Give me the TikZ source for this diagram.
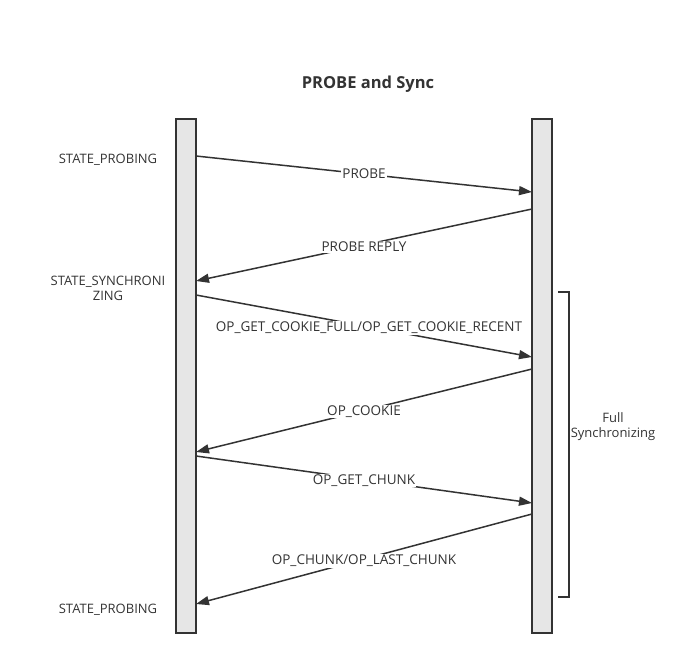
\documentclass[tikz,border=0pt]{standalone}
\usepackage{fontspec}
\setmainfont{Open Sans}
\usetikzlibrary{arrows.meta}
\definecolor{linegray}{HTML}{333333}
\definecolor{barfill}{HTML}{E6E6E6}
\tikzset{
  lifebar/.style={draw=linegray, line width=1.5pt, fill=barfill},
  msg/.style={draw=linegray, line width=1.5pt, -{Triangle[length=13pt,width=9pt]}},
  msglabel/.style={fill=white, inner sep=1pt, text=linegray, font=\fontsize{13.5}{15}\selectfont},
  statelabel/.style={text=linegray, align=center, font=\fontsize{13}{15}\selectfont}
}
\begin{document}
\begin{tikzpicture}[x=1pt, y=-1pt]
    \useasboundingbox (0,0) rectangle (693,666);
    \node[font=\bfseries\fontsize{16.5}{18}\selectfont, text=linegray] (title) at (368,84) {PROBE and Sync};
    % the two bars
    \draw[lifebar] (176,119) rectangle (196,633);
    \draw[lifebar] (532,119) rectangle (552,633);
    \coordinate (l1) at (196,156); \coordinate (r1) at (532,192);
    \coordinate (r2) at (532,209); \coordinate (l2) at (196,281);
    \coordinate (l3) at (196,295); \coordinate (r3) at (532,357);
    \coordinate (r4) at (532,369); \coordinate (l4) at (196,452);
    \coordinate (l5) at (196,456); \coordinate (r5) at (532,503);
    \coordinate (r6) at (532,514); \coordinate (l6) at (196,604);
    % states
    \node[statelabel] (probing) at (108,160) {STATE\_PROBING};
    \node[statelabel] (sync) at (108,288) {STATE\_SYNCHRONI\\ZING};
    \node[statelabel] (probingend) at (108,610) {STATE\_PROBING};
    % messages
    \draw[msg] (l1) -- node[msglabel] {PROBE} (r1);
    \draw[msg] (r2) -- node[msglabel, yshift=-2pt] {PROBE REPLY} (l2);
    \draw[msg] (l3) -- node[msglabel, xshift=5pt, yshift=-2pt] {OP\_GET\_COOKIE\_FULL/OP\_GET\_COOKIE\_RECENT} (r3);
    \draw[msg] (r4) -- node[msglabel, yshift=-1pt] {OP\_COOKIE} (l4);
    \draw[msg] (l5) -- node[msglabel, yshift=-1pt] {OP\_GET\_CHUNK} (r5);
    \draw[msg] (r6) -- node[msglabel, yshift=-2pt] {OP\_CHUNK/OP\_LAST\_CHUNK} (l6);
    % bracket
    \coordinate (btop) at (558,292); \coordinate (bbot) at (558,597);
    \draw[draw=linegray, line width=1.5pt] (btop) -- ++(11,0) |- (bbot);
    \node[statelabel] (full) at (613,427) {Full\\Synchronizing};
\end{tikzpicture}
\end{document}
